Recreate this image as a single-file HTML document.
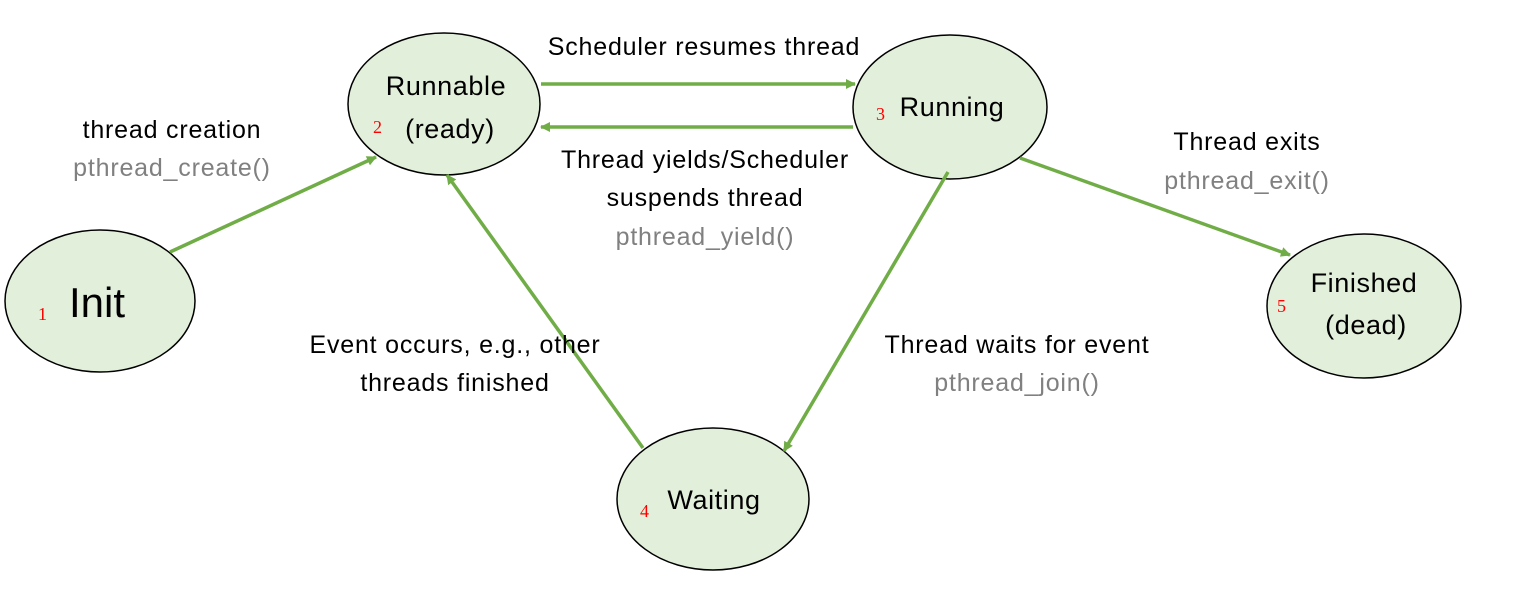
<!DOCTYPE html>
<html><head><meta charset="utf-8"><style>
body{margin:0;background:#fff}
svg{display:block}
text{font-family:"Liberation Sans",sans-serif;}
.t{font-size:25px;fill:#000;letter-spacing:0.8px}
.g{font-size:25px;fill:#808080;letter-spacing:0.8px}
.b{font-size:27px;fill:#000;letter-spacing:0.6px}
.n{font-family:"Liberation Serif",serif;font-size:18px;fill:#ff0000}
</style></head><body>
<svg width="1519" height="591" viewBox="0 0 1519 591">
<defs><marker id="a" markerWidth="10" markerHeight="10" refX="9" refY="5" orient="auto" markerUnits="userSpaceOnUse"><path d="M0,0 L10,5 L0,10 z" fill="#70ad47"/></marker></defs>
<g fill="#e2efda" stroke="#000" stroke-width="1.5">
<ellipse cx="444" cy="104" rx="96" ry="71"/>
<ellipse cx="950" cy="107" rx="97" ry="72"/>
<ellipse cx="100" cy="301" rx="95" ry="71"/>
<ellipse cx="1364" cy="306" rx="97" ry="72"/>
<ellipse cx="713" cy="499" rx="96" ry="71"/>
</g>
<g stroke="#70ad47" stroke-width="3.5" marker-end="url(#a)">
<line x1="541" y1="84" x2="855" y2="84"/>
<line x1="853" y1="127" x2="541" y2="127"/>
<line x1="170" y1="252" x2="376" y2="157"/>
<line x1="643" y1="448" x2="447" y2="175"/>
<line x1="948" y1="172" x2="784" y2="451"/>
<line x1="1020" y1="158" x2="1290" y2="255"/>
</g>
<g text-anchor="middle">
<text class="b" x="446" y="95">Runnable</text>
<text class="b" x="450" y="138">(ready)</text>
<text class="b" x="952" y="116">Running</text>
<text class="b" x="1364" y="292">Finished</text>
<text class="b" x="1366" y="334">(dead)</text>
<text class="b" x="714" y="509">Waiting</text>
<text class="t" x="704" y="55">Scheduler resumes thread</text>
<text class="t" x="705" y="168">Thread yields/Scheduler</text>
<text class="t" x="705" y="206">suspends thread</text>
<text class="g" x="705" y="245">pthread_yield()</text>
<text class="t" x="172" y="138">thread creation</text>
<text class="g" x="172" y="176">pthread_create()</text>
<text class="t" x="1247" y="150">Thread exits</text>
<text class="g" x="1247" y="189">pthread_exit()</text>
<text class="t" x="1017" y="353">Thread waits for event</text>
<text class="g" x="1017" y="391">pthread_join()</text>
<text class="t" x="455" y="353">Event occurs, e.g., other</text>
<text class="t" x="455" y="391">threads finished</text>
</g>
<text style="font-size:42px;fill:#000" x="69" y="317">Init</text>
<text class="n" x="373" y="133">2</text>
<text class="n" x="876" y="120">3</text>
<text class="n" x="38" y="320">1</text>
<text class="n" x="1277" y="312">5</text>
<text class="n" x="640" y="517">4</text>
</svg>
</body></html>
